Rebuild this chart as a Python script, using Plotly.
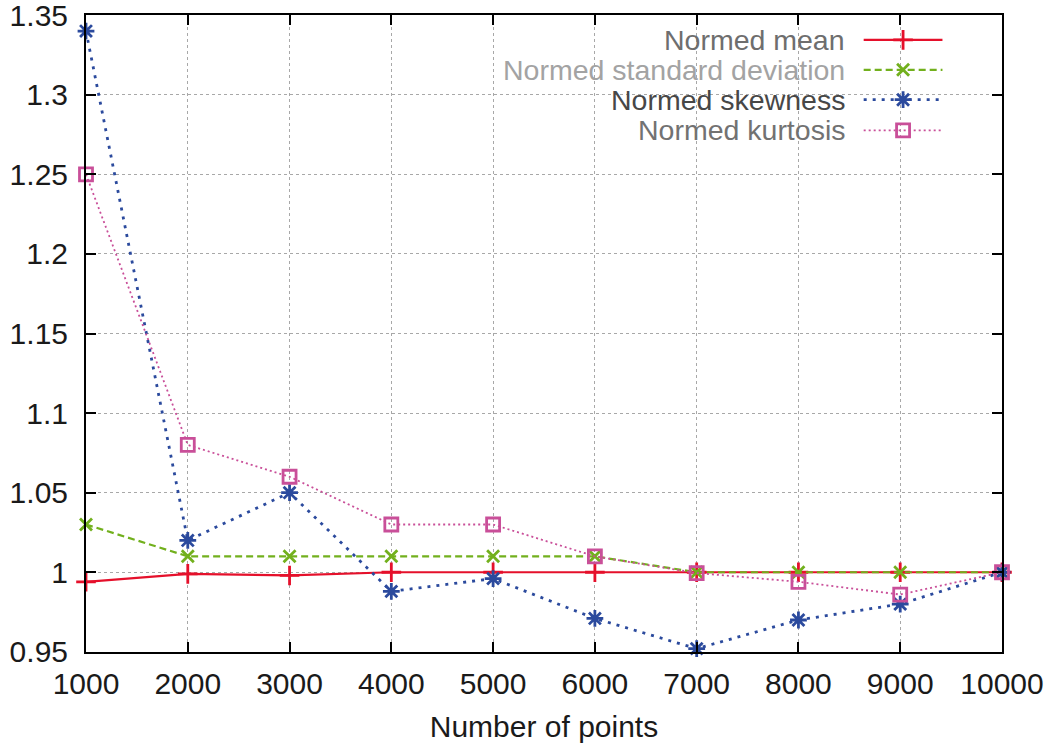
import plotly.graph_objects as go

points = [1000, 2000, 3000, 4000, 5000, 6000, 7000, 8000, 9000, 10000]
normed_mean = [0.994, 0.999, 0.998, 1.0, 1.0, 1.0, 1.0, 1.0, 1.0, 1.0]
normed_std = [1.03, 1.01, 1.01, 1.01, 1.01, 1.01, 1.0, 1.0, 1.0, 1.0]
normed_skew = [1.34, 1.02, 1.05, 0.988, 0.996, 0.971, 0.952, 0.970, 0.980, 1.0]
normed_kurt = [1.25, 1.08, 1.06, 1.03, 1.03, 1.01, 0.9995, 0.994, 0.986, 1.0]

y_ticks = [0.95, 1.0, 1.05, 1.1, 1.15, 1.2, 1.25, 1.3, 1.35]
y_tick_text = ["0.95", "1", "1.05", "1.1", "1.15", "1.2", "1.25", "1.3", "1.35"]

names = ["Normed mean", "Normed standard deviation", "Normed skewness", "Normed kurtosis"]
colors = ["#e5102b", "#72b01d", "#2b4a9d", "#c94f99"]
label_colors = ["#6e6e6e", "#a3a3a3", "#474747", "#727272"]
dashes = ["solid", "7px,4px", "3px,6px", "2px,3px"]
widths = [2.2, 2.2, 2.8, 1.8]
symbols = ["cross-thin-open", "x-thin-open", "asterisk-open", "square-open"]
msizes = [14, 12, 14, 13]
series = [normed_mean, normed_std, normed_skew, normed_kurt]

FONT = "Liberation Sans, Arial, sans-serif"
TXT = "#1a1a1a"
fig = go.Figure()

for name, vals, c, d, w, s, ms in zip(names, series, colors, dashes, widths, symbols, msizes):
    fig.add_trace(go.Scatter(
        x=points, y=vals, mode="lines+markers", name=name,
        line=dict(color=c, dash=d, width=w),
        marker=dict(symbol=s, size=ms, color=c, line=dict(color=c, width=2.8)),
        cliponaxis=False, showlegend=False,
    ))

# gnuplot-style key: right-aligned labels followed by samples
key_rows = [0.961, 0.914, 0.867, 0.819]
key_text_x = 0.831
key_line_x = [0.849, 0.935]
for i, (name, c, d, w, s, ms) in enumerate(zip(names, colors, dashes, widths, symbols, msizes)):
    fig.add_trace(go.Scatter(
        x=key_line_x, y=[key_rows[i]] * 2, xaxis="x2", yaxis="y2", mode="lines",
        line=dict(color=c, dash=d, width=w), showlegend=False, hoverinfo="skip",
    ))
    fig.add_trace(go.Scatter(
        x=[sum(key_line_x) / 2], y=[key_rows[i]], xaxis="x2", yaxis="y2", mode="markers",
        marker=dict(symbol=s, size=ms, color=c, line=dict(color=c, width=2.8)),
        showlegend=False, hoverinfo="skip",
    ))
    fig.add_annotation(
        x=key_text_x, y=key_rows[i], xref="paper", yref="paper", text=name,
        showarrow=False, xanchor="right", yanchor="middle",
        font=dict(family=FONT, size=28.5, color=label_colors[i]),
    )

fig.add_shape(type="rect", xref="paper", yref="paper", x0=0.4716, x1=0.954, y0=0.793, y1=1.0,
              fillcolor="white", line=dict(width=0), layer="between")

axis_common = dict(
    showline=True, linecolor="black", linewidth=2, mirror="allticks",
    ticks="inside", ticklen=10, tickwidth=1.5, tickcolor="black",
    showgrid=True, gridcolor="#a8a8a8", griddash="dot", gridwidth=1,
    zeroline=False, automargin=False, ticklabeloverflow="allow",
    tickfont=dict(family=FONT, size=30, color=TXT),
)

fig.update_layout(
    width=1051, height=747,
    margin=dict(l=86, r=49, t=15, b=95, autoexpand=False),
    paper_bgcolor="white", plot_bgcolor="white",
    font=dict(family=FONT, size=30, color=TXT),
    xaxis=dict(range=[1000, 10000], tickvals=points, ticktext=[str(p) for p in points],
               ticklabelstandoff=4,
               title=dict(text="Number of points", standoff=17, font=dict(family=FONT, size=30, color=TXT)),
               **axis_common),
    yaxis=dict(range=[0.9499, 1.3501], tickvals=y_ticks, ticktext=y_tick_text,
               ticklabelstandoff=10, **axis_common),
    xaxis2=dict(overlaying="x", range=[0, 1], visible=False, fixedrange=True),
    yaxis2=dict(overlaying="y", range=[0, 1], visible=False, fixedrange=True),
    showlegend=False,
)

fig.write_html("out.html", config={"displayModeBar": False},
               post_script="document.body.style.margin='0';")
